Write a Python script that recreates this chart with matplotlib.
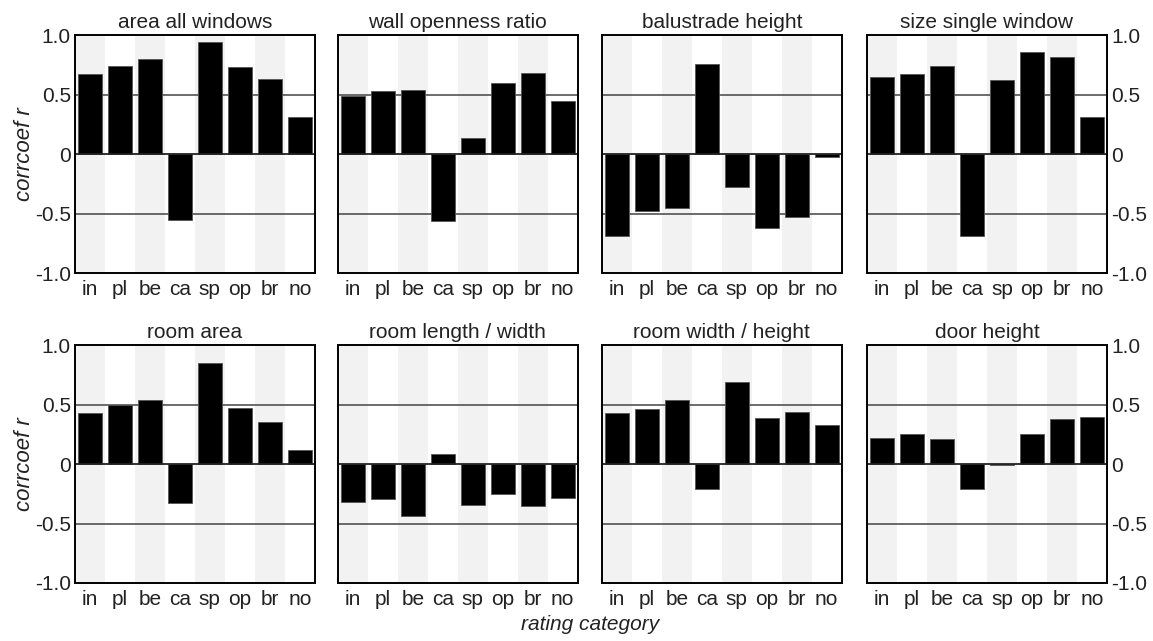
import numpy as np
import matplotlib
matplotlib.use("Agg")
import matplotlib.pyplot as plt

plt.rcParams['font.family'] = ['Liberation Sans', 'DejaVu Sans']

categories = ['in', 'pl', 'be', 'ca', 'sp', 'op', 'br', 'no']

titles = ['area all windows', 'wall openness ratio', 'balustrade height', 'size single window',
          'room area', 'room length / width', 'room width / height', 'door height']

area_all_windows = [0.67, 0.74, 0.80, -0.555, 0.94, 0.73, 0.63, 0.31]
wall_openness_ratio = [0.49, 0.53, 0.54, -0.56, 0.14, 0.60, 0.68, 0.45]
balustrade_height = [-0.69, -0.475, -0.45, 0.76, -0.28, -0.62, -0.53, -0.02]
size_single_window = [0.65, 0.67, 0.74, -0.69, 0.62, 0.86, 0.82, 0.31]
room_area = [0.43, 0.50, 0.54, -0.325, 0.85, 0.47, 0.355, 0.12]
room_length_width = [-0.32, -0.29, -0.44, 0.086, -0.34, -0.255, -0.35, -0.285]
room_width_height = [0.43, 0.46, 0.54, -0.21, 0.69, 0.39, 0.44, 0.33]
door_height = [0.22, 0.25, 0.21, -0.21, -0.01, 0.25, 0.375, 0.40]

series = [area_all_windows, wall_openness_ratio, balustrade_height, size_single_window,
          room_area, room_length_width, room_width_height, door_height]

yticks = [-1.0, -0.5, 0, 0.5, 1.0]
ytick_labels = ['-1.0', '-0.5', '0', '0.5', '1.0']

fig = plt.figure(figsize=(11.53, 6.41), dpi=100)

lefts = [0.065, 0.293, 0.522, 0.752]
bottoms = [0.574, 0.0905]
w, h = 0.208, 0.371
txt = '#222222'

x = np.arange(len(categories))
for k, (vals, title) in enumerate(zip(series, titles)):
    row, col = divmod(k, 4)
    ax = fig.add_axes([lefts[col], bottoms[row], w, h])
    # alternating background stripes
    for i in range(0, len(categories), 2):
        ax.axvspan(i - 0.5, i + 0.5, color='#f2f2f2', lw=0, zorder=0)
    for yv in (0.5, -0.5):
        ax.axhline(yv, color='#444444', lw=1.1, zorder=1)
    ax.bar(x, vals, width=0.8, color='black', edgecolor='#555555', lw=0.6, zorder=2)
    ax.axhline(0, color='#222222', lw=1.3, zorder=3)
    ax.set_xlim(-0.5, 7.5)
    ax.set_ylim(-1.0, 1.0)
    ax.set_xticks(x)
    ax.set_xticklabels(categories, fontsize=15, color=txt)
    ax.set_yticks(yticks)
    ax.tick_params(length=0, pad=3)
    ax.tick_params(axis='x', pad=5)
    if col == 0:
        ax.set_yticklabels(ytick_labels, fontsize=15, color=txt)
        ax.set_ylabel('corrcoef r', fontsize=16, style='italic', labelpad=0, color=txt)
    elif col == 3:
        ax.yaxis.tick_right()
        ax.set_yticklabels(ytick_labels, fontsize=15, color=txt)
    else:
        ax.set_yticklabels([])
    ax.set_title(title, fontsize=15, pad=5, color=txt)
    for s in ax.spines.values():
        s.set_linewidth(1.4)
        s.set_zorder(4)

fig.text(0.512, 0.025, 'rating category', ha='center', va='center', fontsize=15,
         style='italic', color=txt)

fig.savefig('out.png', dpi=100)
